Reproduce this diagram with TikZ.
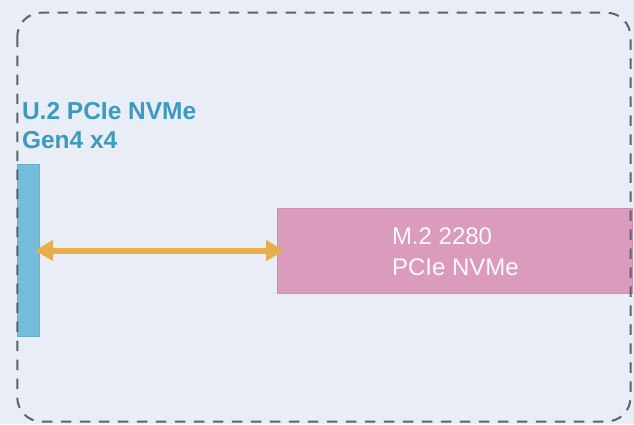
\documentclass[tikz,border=0pt]{standalone}
\usepackage{fontspec}
\setmainfont{Liberation Sans}
\usetikzlibrary{arrows.meta}
\definecolor{bg}{HTML}{E9EDF6}
\definecolor{u2blue}{HTML}{74BEDB}
\definecolor{u2text}{HTML}{3B9BBF}
\definecolor{m2pink}{HTML}{DA9BBD}
\definecolor{link}{HTML}{E5B04B}
\definecolor{frame}{HTML}{5E6268}
\tikzset{
  bar/.style={draw=#1!92!black, line width=0.4pt, fill=#1, inner sep=0pt, outer sep=0pt, anchor=north west},
  lbl/.style={inner sep=0pt, outer sep=0pt, anchor=base west, align=left},
  bus/.style={draw=link, line width=6pt, {Triangle[length=18pt,width=20pt]}-{Triangle[length=18pt,width=20pt]}},
  bay/.style={draw=frame, line width=2pt, dash pattern=on 10.5pt off 8.5pt, rounded corners=24pt}
}
\begin{document}
\begin{tikzpicture}[x=1pt,y=-1pt]
\fill[bg] (0,0) rectangle (634,424);
\useasboundingbox (0,0) rectangle (634,424);
\node[bar=u2blue, minimum width=22pt, minimum height=172pt] (u2) at (17,164.5) {};
\node[bar=m2pink, minimum width=355pt, minimum height=84.5pt] (m2) at (277,208.3) {};
\node[lbl, text=u2text, font=\fontsize{24.5}{29}\selectfont\bfseries] (u2lbl) at (22,148) {U.2 PCIe NVMe\\Gen4 x4};
\node[lbl, text=white!94!m2pink, font=\fontsize{24}{31}\selectfont] (m2lbl) at (392,275) {M.2 2280\\PCIe NVMe};
\draw[bus, shorten <=-4pt, shorten >=-7pt] (u2.east |- 0,250.5) -- (m2.west |- 0,250.5);
\coordinate (tl) at (17.3,12.7);
\coordinate (br) at (630.5,421.5);
\draw[bay] (tl) rectangle (br);
\end{tikzpicture}
\end{document}
